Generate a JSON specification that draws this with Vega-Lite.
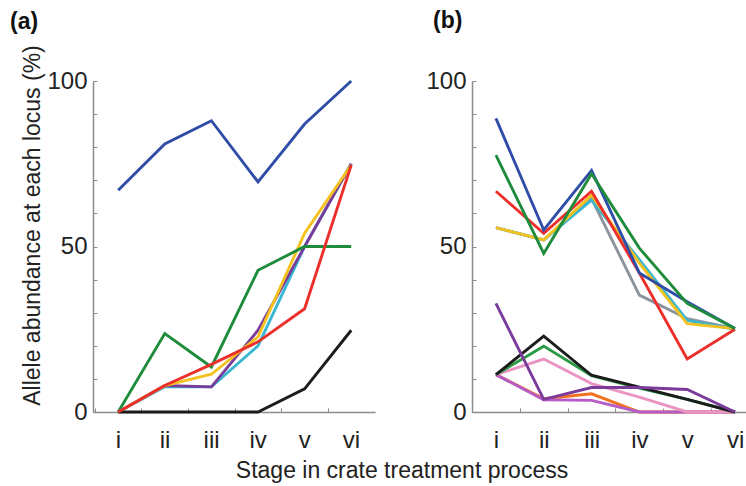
{
  "$schema": "https://vega.github.io/schema/vega-lite/v6.json",
  "padding": {"left": 10, "top": 10, "right": 0, "bottom": 0},
  "config": {
    "font": "Liberation Sans",
    "view": {"stroke": null},
    "concat": {"spacing": 50},
    "axis": {
      "domainColor": "#8c8c8c",
      "domainWidth": 1.5,
      "tickColor": "#8c8c8c",
      "tickWidth": 1,
      "grid": false,
      "labelFont": "Liberation Sans",
      "labelFontSize": 24,
      "labelColor": "#222222",
      "titleFont": "Liberation Sans",
      "titleFontSize": 23,
      "titleFontWeight": "normal",
      "titleColor": "#222222"
    }
  },
  "datasets": {
    "a": [
      {"series": "cyan", "stage": 1, "value": 0},
      {"series": "cyan", "stage": 2, "value": 7.6},
      {"series": "cyan", "stage": 3, "value": 7.6},
      {"series": "cyan", "stage": 4, "value": 20},
      {"series": "cyan", "stage": 5, "value": 50},
      {"series": "cyan", "stage": 6, "value": 75},
      {"series": "purple", "stage": 1, "value": 0},
      {"series": "purple", "stage": 2, "value": 8},
      {"series": "purple", "stage": 3, "value": 7.6},
      {"series": "purple", "stage": 4, "value": 24.7},
      {"series": "purple", "stage": 5, "value": 50},
      {"series": "purple", "stage": 6, "value": 75},
      {"series": "yellow", "stage": 1, "value": 0},
      {"series": "yellow", "stage": 2, "value": 8},
      {"series": "yellow", "stage": 3, "value": 11.4},
      {"series": "yellow", "stage": 4, "value": 22.7},
      {"series": "yellow", "stage": 5, "value": 54},
      {"series": "yellow", "stage": 6, "value": 74.6},
      {"series": "green", "stage": 1, "value": 0},
      {"series": "green", "stage": 2, "value": 23.7},
      {"series": "green", "stage": 3, "value": 13.6},
      {"series": "green", "stage": 4, "value": 42.8},
      {"series": "green", "stage": 5, "value": 50},
      {"series": "green", "stage": 6, "value": 50},
      {"series": "black", "stage": 1, "value": 0},
      {"series": "black", "stage": 2, "value": 0},
      {"series": "black", "stage": 3, "value": 0},
      {"series": "black", "stage": 4, "value": 0},
      {"series": "black", "stage": 5, "value": 7},
      {"series": "black", "stage": 6, "value": 24.7},
      {"series": "blue", "stage": 1, "value": 67},
      {"series": "blue", "stage": 2, "value": 81},
      {"series": "blue", "stage": 3, "value": 88},
      {"series": "blue", "stage": 4, "value": 69.5},
      {"series": "blue", "stage": 5, "value": 87},
      {"series": "blue", "stage": 6, "value": 100},
      {"series": "red", "stage": 1, "value": 0},
      {"series": "red", "stage": 2, "value": 8},
      {"series": "red", "stage": 3, "value": 14.4},
      {"series": "red", "stage": 4, "value": 21.2},
      {"series": "red", "stage": 5, "value": 31.2},
      {"series": "red", "stage": 6, "value": 74.6}
    ],
    "b": [
      {"series": "gray", "stage": 1, "value": 55.7},
      {"series": "gray", "stage": 2, "value": 52},
      {"series": "gray", "stage": 3, "value": 64.5},
      {"series": "gray", "stage": 4, "value": 35.3},
      {"series": "gray", "stage": 5, "value": 28.2},
      {"series": "gray", "stage": 6, "value": 25.2},
      {"series": "cyan", "stage": 1, "value": 55.7},
      {"series": "cyan", "stage": 2, "value": 52},
      {"series": "cyan", "stage": 3, "value": 64},
      {"series": "cyan", "stage": 4, "value": 46},
      {"series": "cyan", "stage": 5, "value": 27.7},
      {"series": "cyan", "stage": 6, "value": 25},
      {"series": "yellow", "stage": 1, "value": 55.7},
      {"series": "yellow", "stage": 2, "value": 52},
      {"series": "yellow", "stage": 3, "value": 65.5},
      {"series": "yellow", "stage": 4, "value": 45},
      {"series": "yellow", "stage": 5, "value": 26.7},
      {"series": "yellow", "stage": 6, "value": 25.2},
      {"series": "red", "stage": 1, "value": 66.7},
      {"series": "red", "stage": 2, "value": 54},
      {"series": "red", "stage": 3, "value": 66.7},
      {"series": "red", "stage": 4, "value": 42},
      {"series": "red", "stage": 5, "value": 16},
      {"series": "red", "stage": 6, "value": 25},
      {"series": "blue", "stage": 1, "value": 88.7},
      {"series": "blue", "stage": 2, "value": 55},
      {"series": "blue", "stage": 3, "value": 73},
      {"series": "blue", "stage": 4, "value": 42},
      {"series": "blue", "stage": 5, "value": 33.3},
      {"series": "blue", "stage": 6, "value": 25.2},
      {"series": "green", "stage": 1, "value": 77.6},
      {"series": "green", "stage": 2, "value": 47.9},
      {"series": "green", "stage": 3, "value": 72},
      {"series": "green", "stage": 4, "value": 49.5},
      {"series": "green", "stage": 5, "value": 32.8},
      {"series": "green", "stage": 6, "value": 25.2},
      {"series": "orange", "stage": 1, "value": 11.3},
      {"series": "orange", "stage": 2, "value": 4},
      {"series": "orange", "stage": 3, "value": 5.5},
      {"series": "orange", "stage": 4, "value": 0},
      {"series": "orange", "stage": 5, "value": 0},
      {"series": "orange", "stage": 6, "value": 0},
      {"series": "magenta", "stage": 1, "value": 11.3},
      {"series": "magenta", "stage": 2, "value": 3.7},
      {"series": "magenta", "stage": 3, "value": 3.5},
      {"series": "magenta", "stage": 4, "value": 0},
      {"series": "magenta", "stage": 5, "value": 0},
      {"series": "magenta", "stage": 6, "value": 0},
      {"series": "pink", "stage": 1, "value": 11.3},
      {"series": "pink", "stage": 2, "value": 16},
      {"series": "pink", "stage": 3, "value": 8.6},
      {"series": "pink", "stage": 4, "value": 4.5},
      {"series": "pink", "stage": 5, "value": 0},
      {"series": "pink", "stage": 6, "value": 0},
      {"series": "green2", "stage": 1, "value": 11.3},
      {"series": "green2", "stage": 2, "value": 19.9},
      {"series": "green2", "stage": 3, "value": 11},
      {"series": "green2", "stage": 4, "value": 7.2},
      {"series": "green2", "stage": 5, "value": 3.8},
      {"series": "green2", "stage": 6, "value": 0},
      {"series": "black", "stage": 1, "value": 11.3},
      {"series": "black", "stage": 2, "value": 22.9},
      {"series": "black", "stage": 3, "value": 11.1},
      {"series": "black", "stage": 4, "value": 7.5},
      {"series": "black", "stage": 5, "value": 3.8},
      {"series": "black", "stage": 6, "value": 0},
      {"series": "purple", "stage": 1, "value": 32.8},
      {"series": "purple", "stage": 2, "value": 3.8},
      {"series": "purple", "stage": 3, "value": 7.4},
      {"series": "purple", "stage": 4, "value": 7.4},
      {"series": "purple", "stage": 5, "value": 6.8},
      {"series": "purple", "stage": 6, "value": 0}
    ]
  },
  "title": {
    "text": "Stage in crate treatment process",
    "orient": "bottom",
    "anchor": "middle",
    "fontSize": 23,
    "fontWeight": "normal",
    "font": "Liberation Sans",
    "color": "#222222",
    "offset": 8,
    "dx": 24
  },
  "hconcat": [
    {
      "data": {"name": "a"},
      "width": 282,
      "height": 331,
      "title": {"text": "(a)", "anchor": "start", "frame": "group", "dx": -83, "fontSize": 23, "fontWeight": "bold", "font": "Liberation Sans", "color": "#111111", "offset": 11},
      "mark": {"type": "line", "strokeWidth": 2.9},
      "encoding": {
        "x": {
          "field": "stage", "type": "quantitative",
          "scale": {"domain": [0.46, 6.51], "nice": false, "zero": false},
          "axis": {"title": null, "values": [0.5, 1.5, 2.5, 3.5, 4.5, 5.5], "labelExpr": "['i','ii','iii','iv','v','vi'][round(datum.value - 0.5)]", "labelOffset": 23, "tickSize": -4, "labelPadding": 20, "labelOverlap": false, "labelBound": false, "labelFlush": false}
        },
        "y": {
          "field": "value", "type": "quantitative",
          "scale": {"domain": [0, 100], "nice": false},
          "axis": {"title": "Allele abundance at each locus (%)", "titleY": 144, "titlePadding": 2, "values": [0, 10, 20, 30, 40, 50, 60, 70, 80, 90, 100], "labelExpr": "datum.value % 50 == 0 ? datum.label : ''", "tickSize": -4, "labelPadding": 10, "labelOverlap": false, "labelFlush": false}
        },
        "color": {
          "field": "series", "type": "nominal", "legend": null,
          "scale": {
            "domain": ["blue", "green", "red", "yellow", "cyan", "purple", "black", "gray", "green2", "pink", "magenta", "orange"],
            "range": ["#2f4da6", "#1f8c3b", "#ec2f2a", "#f4c21f", "#39b7d2", "#7b3b9b", "#1c1c1c", "#8d939c", "#2a9a46", "#ea94c4", "#b65cc6", "#f0701e"]
          }
        }
      }
    },
    {
      "data": {"name": "b"},
      "width": 274,
      "height": 331,
      "title": {"text": "(b)", "anchor": "start", "frame": "group", "dx": -39, "fontSize": 23, "fontWeight": "bold", "font": "Liberation Sans", "color": "#111111", "offset": 36},
      "mark": {"type": "line", "strokeWidth": 2.9},
      "encoding": {
        "x": {
          "field": "stage", "type": "quantitative",
          "scale": {"domain": [0.5, 6.23], "nice": false, "zero": false},
          "axis": {"title": null, "values": [0.5, 1.5, 2.5, 3.5, 4.5, 5.5], "labelExpr": "['i','ii','iii','iv','v','vi'][round(datum.value - 0.5)]", "labelOffset": 24, "tickSize": -4, "labelPadding": 20, "labelOverlap": false, "labelBound": false, "labelFlush": false}
        },
        "y": {
          "field": "value", "type": "quantitative",
          "scale": {"domain": [0, 100], "nice": false},
          "axis": {"title": null, "values": [0, 10, 20, 30, 40, 50, 60, 70, 80, 90, 100], "labelExpr": "datum.value % 50 == 0 ? datum.label : ''", "tickSize": -4, "labelPadding": 10, "labelOverlap": false, "labelFlush": false}
        },
        "color": {
          "field": "series", "type": "nominal", "legend": null,
          "scale": {
            "domain": ["blue", "green", "red", "yellow", "cyan", "purple", "black", "gray", "green2", "pink", "magenta", "orange"],
            "range": ["#2f4da6", "#1f8c3b", "#ec2f2a", "#f4c21f", "#39b7d2", "#7b3b9b", "#1c1c1c", "#8d939c", "#2a9a46", "#ea94c4", "#b65cc6", "#f0701e"]
          }
        }
      }
    }
  ]
}
